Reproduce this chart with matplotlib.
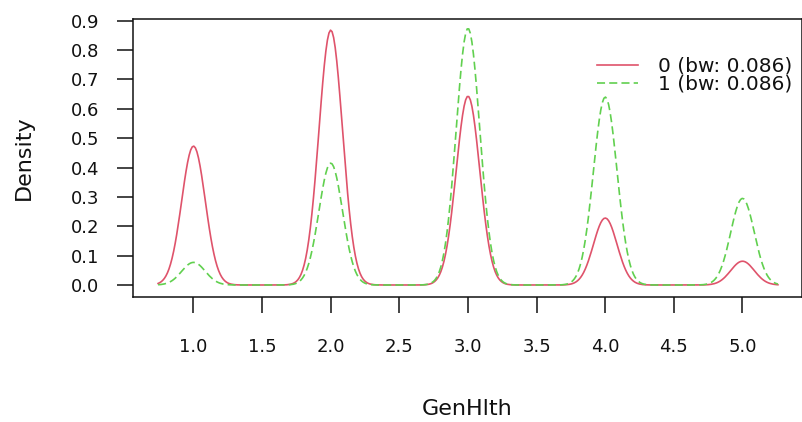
import numpy as np
import matplotlib
matplotlib.use("Agg")
import matplotlib.pyplot as plt
from matplotlib.lines import Line2D

plt.rcParams['font.family'] = ['DejaVu Sans']
plt.rcParams['lines.scale_dashes'] = False

# Kernel density of GenHlth by group (Gaussian kernel, bandwidth 0.086)
levels = [1, 2, 3, 4, 5]
bandwidth = 0.086
peak_density_0 = [0.473, 0.868, 0.643, 0.228, 0.081]
peak_density_1 = [0.077, 0.415, 0.874, 0.640, 0.295]
group_labels = ["0 (bw: 0.086)", "1 (bw: 0.086)"]
x_ticks = [1.0, 1.5, 2.0, 2.5, 3.0, 3.5, 4.0, 4.5, 5.0]
y_ticks = [0.0, 0.1, 0.2, 0.3, 0.4, 0.5, 0.6, 0.7, 0.8, 0.9]

RED = "#DF536B"
GREEN = "#61D04F"
INK = "#111111"


def kde_curve(grid, centers, peaks, h):
    out = np.zeros_like(grid)
    for c, p in zip(centers, peaks):
        out += p * np.exp(-0.5 * ((grid - c) / h) ** 2)
    return out


grid = np.linspace(min(levels) - 3 * bandwidth, max(levels) + 3 * bandwidth, 400)
dens0 = kde_curve(grid, levels, peak_density_0, bandwidth)
dens1 = kde_curve(grid, levels, peak_density_1, bandwidth)

W, H = 803, 422
fig = plt.figure(figsize=(W / 100, H / 100), dpi=100)
left, right, top, bottom = 132.7, 802.0, 19.3, 296.7
ax = fig.add_axes([left / W, 1 - bottom / H, (right - left) / W, (bottom - top) / H])

ax.plot(grid, dens0, color=RED, lw=1.2, solid_joinstyle='round')
ax.plot(grid, dens1, color=GREEN, lw=1.2, linestyle=(0, (5.8, 3.0)))

# pixel-calibrated limits: x 1.0 -> 193.5px, 5.0 -> 742.5px; y 0 -> 285px, 0.9 -> 20.7px
px_per_x = (742.5 - 193.5) / 4.0
px_per_y = (285.0 - 20.7) / 0.9
ax.set_xlim(1.0 - (193.5 - left) / px_per_x, 5.0 + (right - 742.5) / px_per_x)
ax.set_ylim(-(bottom - 285.0) / px_per_y, (285.0 - top) / px_per_y)

ax.set_xticks(x_ticks)
ax.set_xticklabels([f"{v:.1f}" for v in x_ticks])
ax.set_yticks(y_ticks)
ax.set_yticklabels([f"{v:.1f}" for v in y_ticks])
ax.tick_params(axis='both', direction='out', length=11.5, width=1.1, color=INK,
               labelsize=13, labelcolor=INK)
ax.tick_params(axis='x', pad=18.5)
ax.tick_params(axis='y', pad=12.5)

for s in ax.spines.values():
    s.set_linewidth(1.1)
    s.set_color(INK)

ax.set_ylabel("Density", fontsize=16, color=INK)
ax.yaxis.set_label_coords((34 - left) / (right - left), 0.5)
ax.set_xlabel("GenHlth", fontsize=16, color=INK)
ax.xaxis.set_label_coords(0.5, -(399 - bottom) / (bottom - top))

handles = [Line2D([], [], color=RED, lw=1.2),
           Line2D([], [], color=GREEN, lw=1.2, linestyle=(0, (5.8, 3.0)))]
ax.legend(handles, group_labels, loc='upper left',
          bbox_to_anchor=(597 / W, 1 - 57 / H), bbox_transform=fig.transFigure,
          frameon=False, fontsize=14.5, handlelength=2.05, handletextpad=1.0,
          labelspacing=-0.05, borderpad=0, borderaxespad=0, labelcolor=INK)

fig.savefig("out.png", dpi=100)
